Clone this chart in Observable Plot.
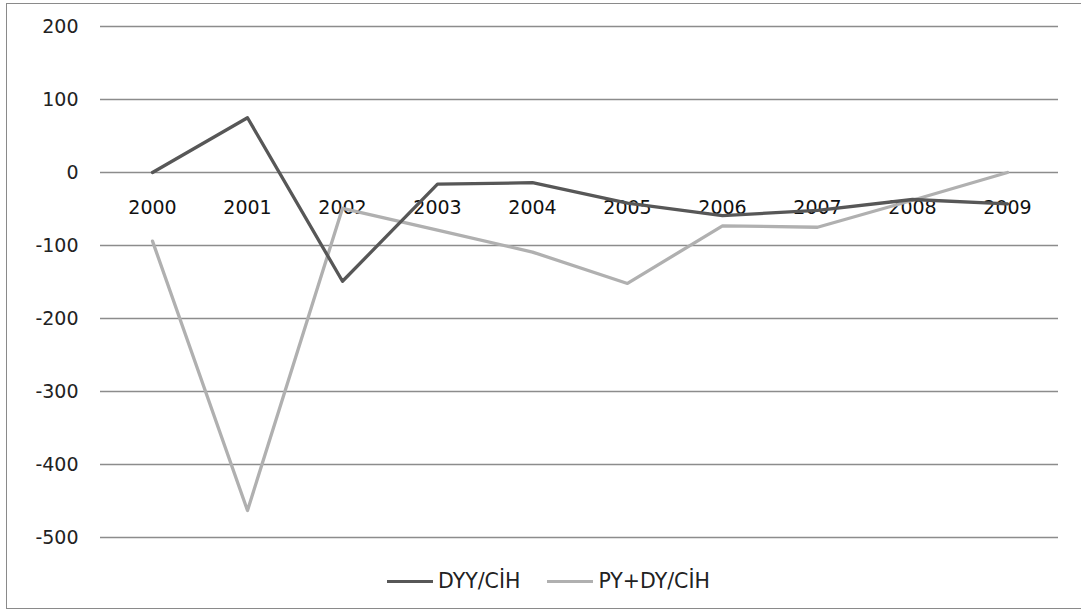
<!DOCTYPE html>
<html>
<head>
<meta charset="utf-8">
<script src="https://cdn.jsdelivr.net/npm/d3@7"></script>
<script src="https://cdn.jsdelivr.net/npm/@observablehq/plot@0.6"></script>
<style>
  html, body { margin: 0; padding: 0; background: #fff; }
  body { width: 1081px; height: 614px; position: relative; overflow: hidden;
         font-family: "DejaVu Sans", Verdana, sans-serif; }
  #frame { position: absolute; left: 6px; top: 3px; width: 1090px; height: 606px;
           border: 1.5px solid #8a8a8a; box-sizing: border-box; }
  #chart { position: absolute; left: 0; top: 0; }
  #legend { position: absolute; left: 387px; top: 569px; display: flex; align-items: center;
            font-size: 20.5px; color: #222; }
  #legend .item { display: flex; align-items: center; margin-right: 27px; }
  #legend .swatch { width: 46px; height: 3px; margin-right: 5px; }
</style>
</head>
<body>
<div id="frame"></div>
<div id="chart"></div>
<div id="legend"></div>
<script>
// Years on the category axis
const years = ["2000", "2001", "2002", "2003", "2004", "2005", "2006", "2007", "2008", "2009"];
// Series values
const dyyCih = [0, 75, -149, -16, -14, -42, -59, -52, -37, -43];
const pyDyCih = [-94, -463, -49, -79, -109, -152, -73, -75, -38, 0];
// Value axis ticks
const yTicks = [200, 100, 0, -100, -200, -300, -400, -500];

const seriesNames = ["DYY/CİH", "PY+DY/CİH"];
const seriesColors = ["#575757", "#b0b0b0"];

const rows = [];
years.forEach((year, i) => {
  rows.push({year, value: dyyCih[i], series: seriesNames[0]});
  rows.push({year, value: pyDyCih[i], series: seriesNames[1]});
});

const chart = Plot.plot({
  width: 1081,
  height: 560,
  marginLeft: 100,
  marginRight: 23,
  marginTop: 26,
  marginBottom: 23,
  style: {fontFamily: "DejaVu Sans, Verdana, sans-serif", fontSize: "19px", color: "#222", background: "transparent"},
  x: {type: "point", domain: years, padding: 0.5, axis: null},
  y: {domain: [-500, 200], axis: null},
  color: {domain: seriesNames, range: seriesColors},
  marks: [
    Plot.gridY(yTicks, {stroke: "#8c8c8c", strokeOpacity: 1, strokeWidth: 1.5}),
    Plot.axisY(yTicks, {tickSize: 0, tickPadding: 22, fontSize: 19, fill: "#222", label: null,
                        tickFormat: d => String(d)}),
    Plot.text(years, {x: d => d, y: () => 0, dy: 35, fontSize: 19, fill: "#111"}),
    Plot.line(rows.filter(d => d.series === seriesNames[1]), {x: "year", y: "value", stroke: "series", strokeWidth: 3.3}),
    Plot.line(rows.filter(d => d.series === seriesNames[0]), {x: "year", y: "value", stroke: "series", strokeWidth: 3.3})
  ]
});
document.getElementById("chart").appendChild(chart);

const legend = document.getElementById("legend");
seriesNames.forEach((name, i) => {
  const item = document.createElement("div");
  item.className = "item";
  const sw = document.createElement("div");
  sw.className = "swatch";
  sw.style.background = seriesColors[i];
  const label = document.createElement("span");
  label.textContent = name;
  item.appendChild(sw);
  item.appendChild(label);
  legend.appendChild(item);
});
</script>
</body>
</html>
